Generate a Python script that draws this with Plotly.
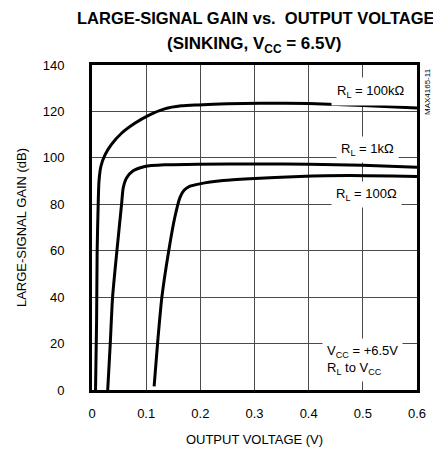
import plotly.graph_objects as go

# ---- data ----
x_100k = [0.0065, 0.0085, 0.0095, 0.0112, 0.0129, 0.0166, 0.024, 0.036, 0.0545, 0.079, 0.1036, 0.134, 0.165, 0.196, 0.25, 0.31, 0.40, 0.50, 0.60]
g_100k = [0, 30, 60, 78.0, 90.0, 96.5, 101.3, 105.8, 110.6, 114.9, 118.2, 121.1, 122.4, 122.8, 123.3, 123.5, 123.4, 122.6, 121.5]

x_1k = [0.029, 0.0337, 0.038, 0.046, 0.0545, 0.0576, 0.0637, 0.076, 0.0975, 0.134, 0.196, 0.31, 0.40, 0.50, 0.60]
g_1k = [0, 20, 40, 60, 79.8, 87.0, 91.3, 94.4, 96.3, 97.0, 97.3, 97.4, 97.3, 96.8, 96.0]

x_100 = [0.1147, 0.121, 0.129, 0.1417, 0.153, 0.1625, 0.170, 0.180, 0.199, 0.242, 0.291, 0.383, 0.475, 0.60]
g_100 = [1.6, 20, 40, 60, 74.5, 83.0, 86.0, 87.7, 88.8, 90.2, 91.0, 92.0, 92.4, 92.0]

x_ticks = [0, 0.1, 0.2, 0.3, 0.4, 0.5, 0.6]
x_tick_labels = ["0", "0.1", "0.2", "0.3", "0.4", "0.5", "0.6"]
y_ticks = [0, 20, 40, 60, 80, 100, 120, 140]
y_tick_labels = ["0", "20", "40", "60", "80", "100", "120", "140"]

FONT = "Liberation Sans, Arial, sans-serif"

fig = go.Figure()
for xs, ys in [(x_100k, g_100k), (x_1k, g_1k), (x_100, g_100)]:
    fig.add_trace(go.Scatter(x=xs, y=ys, mode="lines",
                             line=dict(color="black", width=3, shape="spline", smoothing=0.6),
                             showlegend=False, hoverinfo="skip"))

axis_common = dict(showline=True, linecolor="black", linewidth=3, mirror=True,
                   showgrid=True, gridcolor="#4a4a4a", gridwidth=1, zeroline=False,
                   ticks="", tickfont=dict(family=FONT, size=13, color="black"))

fig.update_xaxes(range=[0, 0.6], tickvals=x_ticks, ticktext=x_tick_labels,
                 ticklabelstandoff=9,
                 title=dict(text="OUTPUT VOLTAGE (V)", font=dict(family=FONT, size=13, color="black"), standoff=16),
                 **axis_common)
fig.update_yaxes(range=[0, 140], tickvals=y_ticks, ticktext=y_tick_labels,
                 ticklabelstandoff=22,
                 title=dict(text="LARGE-SIGNAL GAIN (dB)", font=dict(family=FONT, size=13, color="black"), standoff=14),
                 **axis_common)

lab_font = dict(family=FONT, size=13, color="black")
annotations = [
    dict(x=0.514, y=128.5, xref="x", yref="y", text="R<sub>L</sub> = 100kΩ", showarrow=False,
         font=lab_font, bgcolor="white", borderpad=5),
    dict(x=0.509, y=103.7, xref="x", yref="y", text="R<sub>L</sub> = 1kΩ", showarrow=False,
         font=lab_font, bgcolor="white", borderpad=4),
    dict(x=0.507, y=84.1, xref="x", yref="y", text="R<sub>L</sub> = 100Ω", showarrow=False,
         font=lab_font, bgcolor="white", borderpad=4),
    dict(x=0.424, y=13.1, xref="x", yref="y", xanchor="left", align="left",
         text="V<sub>CC</sub> = +6.5V<br>R<sub>L</sub> to V<sub>CC</sub>", showarrow=False,
         font=lab_font, bgcolor="white", borderpad=4),
    dict(x=1.034, y=0.917, xref="paper", yref="paper", xanchor="center", yanchor="middle",
         text="MAX4165-11", textangle=-90,
         showarrow=False, font=dict(family=FONT, size=8, color="black")),
    dict(x=0.505, y=1.144, xref="paper", yref="paper", xanchor="center", yanchor="middle",
         text="<b>LARGE-SIGNAL GAIN vs.  OUTPUT VOLTAGE</b>",
         showarrow=False, font=dict(family=FONT, size=16.5, color="black")),
    dict(x=0.5, y=1.061, xref="paper", yref="paper", xanchor="center", yanchor="middle",
         text="<b>(SINKING, V<sub>CC</sub> = 6.5V)</b>",
         showarrow=False, font=dict(family=FONT, size=17, color="black")),
]

# page body has an 8px margin, so the figure is 8px smaller and margins shifted
fig.update_layout(width=433, height=445, margin=dict(l=84, r=24, t=57, b=63, autoexpand=False),
                  paper_bgcolor="white", plot_bgcolor="white", annotations=annotations)

fig.write_html("out.html")
